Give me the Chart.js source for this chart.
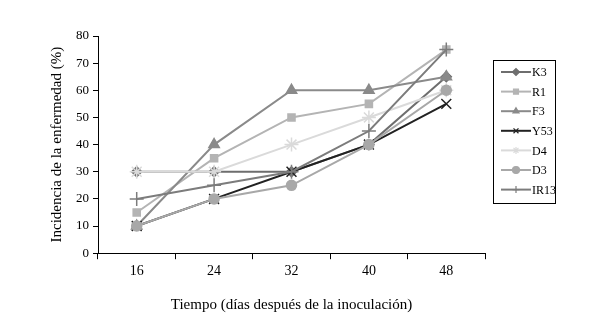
<!DOCTYPE html>
<html>
<head>
<meta charset="utf-8">
<script src="https://cdn.jsdelivr.net/npm/chart.js@4/dist/chart.umd.min.js"></script>
<style>
    html, body { margin: 0; padding: 0; background: #fff; }
    #wrap { width: 595px; height: 324px; }
</style>
</head>
<body>
<div id="wrap"><canvas id="chart" width="595" height="324"></canvas></div>
<script>
// Days after inoculation
const categories = ['16', '24', '32', '40', '48'];

// Disease incidence (%) per isolate
const seriesNames = ['K3', 'R1', 'F3', 'Y53', 'D4', 'D3', 'IR13'];
const k3 = [30, 30, 30, 40, 65];
const r1 = [15, 35, 50, 55, 75];
const f3 = [10, 40, 60, 60, 65];
const y53 = [10, 20, 30, 40, 55];
const d4 = [30, 30, 40, 50, 60];
const d3 = [10, 20, 25, 40, 60];
const ir13 = [20, 25, 30, 45, 75];

const yTicks = [0, 10, 20, 30, 40, 50, 60, 70, 80];

const serif = "'Liberation Serif', 'Times New Roman', serif";

const styles = [
    { color: '#6e6e6e', point: 'rectRot', radius: 5 },
    { color: '#b4b4b4', point: 'rect', radius: 5 },
    { color: '#8a8a8a', point: 'triangle', radius: 6 },
    { color: '#222222', point: 'crossRot', radius: 7 },
    { color: '#dadada', point: 'star', radius: 7 },
    { color: '#a8a8a8', point: 'circle', radius: 5 },
    { color: '#7c7c7c', point: 'cross', radius: 7 }
];

const values = [k3, r1, f3, y53, d4, d3, ir13];

// later series are painted over earlier ones, like the original
const datasets = values.map((data, i) => ({
    label: seriesNames[i],
    data: data,
    order: values.length - i,
    borderColor: styles[i].color,
    backgroundColor: styles[i].color,
    borderWidth: 2,
    pointStyle: styles[i].point,
    pointRadius: styles[i].radius,
    pointBorderWidth: 1.5,
    tension: 0
}));

// Boxed legend on the right: short line with the marker in the middle
const boxLegend = {
    id: 'boxLegend',
    afterDraw(chart) {
        const ctx = chart.ctx;
        const x0 = 493, y0 = 60, w = 62, h = 143;
        ctx.save();
        ctx.strokeStyle = '#000';
        ctx.lineWidth = 1;
        ctx.strokeRect(x0 + 0.5, y0 + 0.5, w, h);
        const rowH = 19.6;
        seriesNames.forEach((name, i) => {
            const ds = chart.data.datasets[i];
            const y = y0 + 12 + i * rowH;
            ctx.strokeStyle = ds.borderColor;
            ctx.lineWidth = 2;
            ctx.beginPath();
            ctx.moveTo(x0 + 8, y);
            ctx.lineTo(x0 + 38, y);
            ctx.stroke();
            ctx.fillStyle = ds.backgroundColor;
            ctx.lineWidth = 1.2;
            Chart.helpers.drawPoint(ctx, {
                pointStyle: ds.pointStyle,
                radius: 3.5,
                rotation: 0,
                borderWidth: 1.2
            }, x0 + 23, y);
            ctx.fillStyle = '#000';
            ctx.font = '12px ' + serif;
            ctx.textBaseline = 'middle';
            ctx.textAlign = 'left';
            ctx.fillText(name, x0 + 39, y + 1);
        });
        ctx.restore();
    }
};

new Chart(document.getElementById('chart'), {
    type: 'line',
    data: { labels: categories, datasets: datasets },
    options: {
        responsive: false,
        animation: false,
        layout: { padding: { left: 44, right: 110, top: 36, bottom: 6 } },
        plugins: {
            legend: { display: false },
            tooltip: { enabled: false }
        },
        scales: {
            x: {
                offset: true,
                grid: {
                    offset: true,
                    drawOnChartArea: false,
                    drawTicks: true,
                    tickLength: 6,
                    color: '#000'
                },
                border: { color: '#000', width: 1 },
                ticks: {
                    color: '#000',
                    font: { family: serif, size: 14 },
                    padding: 4
                },
                title: {
                    display: true,
                    text: 'Tiempo (días después de la inoculación)',
                    color: '#000',
                    font: { family: serif, size: 15 },
                    padding: { top: 12 }
                }
            },
            y: {
                min: 0,
                max: 80,
                afterBuildTicks(axis) {
                    axis.ticks = yTicks.map(v => ({ value: v }));
                },
                grid: {
                    drawOnChartArea: false,
                    drawTicks: true,
                    tickLength: 5,
                    color: '#000'
                },
                border: { color: '#000', width: 1 },
                ticks: {
                    color: '#000',
                    font: { family: serif, size: 13 },
                    padding: 4
                },
                title: {
                    display: true,
                    text: 'Incidencia de la enfermedad (%)',
                    color: '#000',
                    font: { family: serif, size: 15 },
                    padding: { bottom: 6 }
                }
            }
        }
    },
    plugins: [boxLegend]
});
</script>
</body>
</html>
